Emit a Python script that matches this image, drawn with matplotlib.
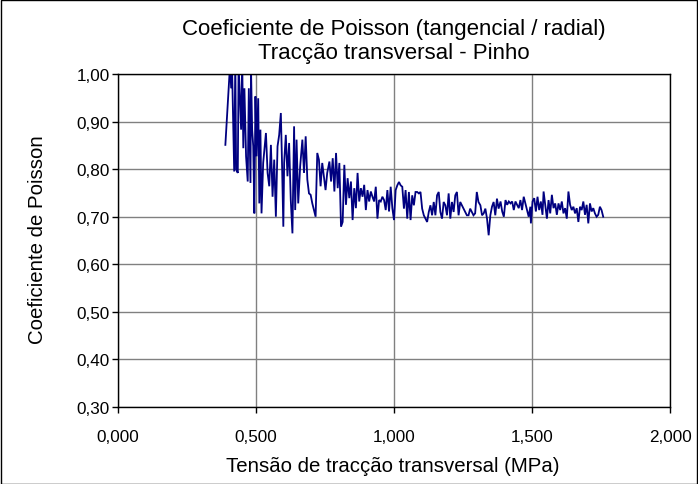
import matplotlib
matplotlib.use("Agg")
import matplotlib.pyplot as plt
from matplotlib.ticker import FuncFormatter
from matplotlib.patches import Rectangle

plt.rcParams['font.family'] = ['Liberation Sans', 'DejaVu Sans']

title_lines = ["Coeficiente de Poisson (tangencial / radial)", "Tracção transversal - Pinho"]
xlabel = "Tensão de tracção transversal (MPa)"
ylabel = "Coeficiente de Poisson"

tension = [
    0.389, 0.406, 0.410, 0.413, 0.419, 0.421, 0.425, 0.428, 0.434, 0.437,
    0.446, 0.450, 0.454, 0.458, 0.464, 0.470, 0.474, 0.480, 0.482, 0.486,
    0.490, 0.494, 0.498, 0.502, 0.508, 0.512, 0.516, 0.520, 0.526, 0.536,
    0.542, 0.548, 0.554, 0.560, 0.566, 0.572, 0.578, 0.584, 0.590, 0.594,
    0.599, 0.602, 0.608, 0.614, 0.620, 0.626, 0.632, 0.638, 0.642, 0.647,
    0.653, 0.660, 0.668, 0.674, 0.680, 0.686, 0.692, 0.698, 0.704, 0.710,
    0.716, 0.722, 0.728, 0.734, 0.740, 0.746, 0.752, 0.758,
    0.766, 0.772, 0.778, 0.784, 0.790, 0.796, 0.802, 0.808, 0.814, 0.820,
    0.826, 0.832, 0.838, 0.844, 0.850, 0.856, 0.862, 0.868, 0.874, 0.880,
    0.886, 0.892, 0.898, 0.904, 0.910, 0.916, 0.922, 0.928, 0.934, 0.940,
    0.946, 0.952, 0.958, 0.964, 0.970, 0.976, 0.982, 0.988, 0.994, 1.000,
    1.006, 1.012, 1.018, 1.024, 1.030, 1.036, 1.042, 1.048, 1.054, 1.060,
    1.066, 1.072, 1.078, 1.084, 1.090, 1.096, 1.102, 1.108, 1.114, 1.120,
    1.126, 1.132, 1.138, 1.144, 1.150, 1.156, 1.162, 1.168, 1.174, 1.180,
    1.186, 1.192, 1.198, 1.204, 1.210, 1.216, 1.222, 1.228, 1.234, 1.240,
    1.246, 1.252, 1.258, 1.264, 1.270, 1.276, 1.282, 1.288, 1.294, 1.300,
    1.306, 1.313, 1.319, 1.325, 1.331, 1.337, 1.343, 1.349, 1.355, 1.361,
    1.367, 1.373, 1.379,
    1.386, 1.392, 1.398, 1.404, 1.410, 1.416, 1.422, 1.428, 1.434, 1.440,
    1.446, 1.452, 1.458, 1.464, 1.470, 1.476, 1.482, 1.488, 1.494, 1.496,
    1.502, 1.508, 1.514, 1.520, 1.526, 1.532, 1.538, 1.542, 1.548, 1.554,
    1.560, 1.566, 1.572, 1.578, 1.584, 1.590, 1.596, 1.602, 1.608, 1.614,
    1.620, 1.626, 1.632, 1.638, 1.644, 1.650, 1.656, 1.662, 1.668, 1.674,
    1.680, 1.686, 1.692, 1.698, 1.704, 1.710, 1.716, 1.722, 1.728, 1.734,
    1.740, 1.746, 1.752, 1.758,
]

poisson = [
    0.851, 1.020, 0.970, 1.020, 0.848, 0.795, 1.030, 0.799, 0.792, 1.020,
    0.883, 1.030, 0.844, 0.970, 0.827, 0.774, 0.970, 0.771, 1.010, 0.883,
    0.848, 0.707, 0.953, 0.827, 0.949, 0.728, 0.883, 0.707, 0.813, 0.876,
    0.792, 0.764, 0.851, 0.742, 0.820, 0.700, 0.848, 0.872, 0.918, 0.820,
    0.679, 0.813, 0.872, 0.785, 0.855, 0.735, 0.665, 0.890, 0.714, 0.862,
    0.728, 0.806, 0.862, 0.792, 0.869, 0.778, 0.749, 0.746, 0.728, 0.714,
    0.700, 0.834, 0.820, 0.764, 0.813, 0.785, 0.756, 0.792,
    0.816, 0.774, 0.823, 0.753, 0.834, 0.760, 0.813, 0.679, 0.689, 0.809,
    0.725, 0.781, 0.739, 0.774, 0.693, 0.760, 0.718, 0.792, 0.732, 0.760,
    0.742, 0.767, 0.714, 0.756, 0.732, 0.753, 0.742, 0.732, 0.763, 0.696,
    0.735, 0.732, 0.742, 0.735, 0.714, 0.756, 0.711, 0.763, 0.718, 0.693,
    0.756, 0.766, 0.773, 0.766, 0.763, 0.717, 0.756, 0.696, 0.752, 0.693,
    0.745, 0.724, 0.752, 0.752, 0.749, 0.752, 0.717, 0.703, 0.696, 0.689,
    0.710, 0.724, 0.703, 0.731, 0.703, 0.745, 0.752, 0.710, 0.696, 0.731,
    0.724, 0.703, 0.749, 0.696, 0.731, 0.710, 0.745, 0.752, 0.703, 0.731,
    0.724, 0.717, 0.710, 0.703, 0.703, 0.717, 0.710, 0.703, 0.707, 0.752,
    0.731, 0.724, 0.703, 0.707, 0.717, 0.696, 0.661, 0.703, 0.721, 0.731,
    0.703, 0.738, 0.717,
    0.732, 0.711, 0.700, 0.735, 0.725, 0.732, 0.728, 0.732, 0.714, 0.732,
    0.725, 0.718, 0.735, 0.714, 0.742, 0.728, 0.714, 0.700, 0.721, 0.686,
    0.732, 0.739, 0.711, 0.742, 0.714, 0.732, 0.704, 0.753, 0.725, 0.696,
    0.735, 0.707, 0.746, 0.718, 0.728, 0.704, 0.728, 0.714, 0.732, 0.707,
    0.718, 0.696, 0.753, 0.725, 0.714, 0.721, 0.707, 0.718, 0.689, 0.721,
    0.714, 0.732, 0.704, 0.725, 0.686, 0.728, 0.711, 0.718, 0.707, 0.700,
    0.704, 0.721, 0.714, 0.700,
]

x_ticks = [0.0, 0.5, 1.0, 1.5, 2.0]
y_ticks = [0.30, 0.40, 0.50, 0.60, 0.70, 0.80, 0.90, 1.00]

W, H = 698, 485
fig = plt.figure(figsize=(W / 100, H / 100), dpi=100)
fig.patches.append(Rectangle((0.001, 0.001), 0.997, 0.997, transform=fig.transFigure,
                             fill=False, edgecolor='black', linewidth=1.0))
ax = fig.add_axes([118 / W, 1 - 408 / H, (670 - 118) / W, (408 - 75) / H])

ax.plot(tension, poisson, color='#000080', linewidth=1.3, solid_joinstyle='miter')

ax.set_xlim(0, 2.0)
ax.set_ylim(0.30, 1.00)
ax.set_xticks(x_ticks)
ax.set_yticks(y_ticks)
ax.xaxis.set_major_formatter(FuncFormatter(lambda v, p: f"{v:.3f}".replace('.', ',')))
ax.yaxis.set_major_formatter(FuncFormatter(lambda v, p: f"{v:.2f}".replace('.', ',')))
ax.grid(True, color='#808080', linewidth=1.0)
ax.set_axisbelow(True)
for s in ax.spines.values():
    s.set_color('black')
    s.set_linewidth(1.0)
ax.tick_params(axis='both', direction='out', length=4, width=1, labelsize=12.3, colors='black')
ax.tick_params(axis='x', pad=12)
ax.tick_params(axis='y', pad=2)

fig.text(394 / W, 1 - 30 / H, title_lines[0], fontsize=16, ha='center', va='center')
fig.text(394 / W, 1 - 53 / H, title_lines[1], fontsize=16, ha='center', va='center')
fig.text(393 / W, 1 - 467 / H, xlabel, fontsize=14.7, ha='center', va='center')
fig.text(38 / W, 1 - 240 / H, ylabel, fontsize=14.7, ha='center', va='center', rotation=90)

fig.savefig("out.png", dpi=100)
